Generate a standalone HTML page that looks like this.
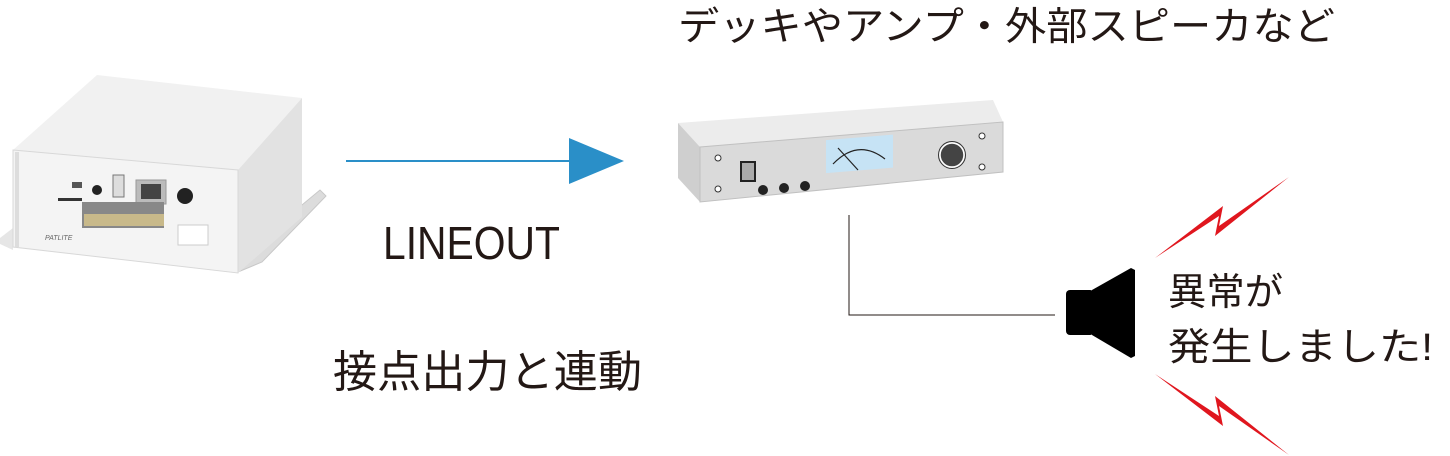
<!DOCTYPE html>
<html><head><meta charset="utf-8"><style>
html,body{margin:0;padding:0;background:#fff;}
svg{display:block;}
text{font-family:"Liberation Sans","Noto Sans CJK JP",sans-serif;fill:#231815;}
</style></head><body>
<svg width="1450" height="456" viewBox="0 0 1450 456" xmlns="http://www.w3.org/2000/svg">
<!-- Left device -->
<polygon points="0,238 13,228 13,250 0,244" fill="#e6e6e6"/>
<polygon points="238,258 320,190 326,196 262,262 238,272" fill="#dcdcdc" stroke="#c8c8c8"/>
<polygon points="13,150 97,75 302,98 238,170" fill="#f1f1f1"/>
<polygon points="238,170 302,98 302,217 238,273" fill="#e2e2e2"/>
<polygon points="13,150 238,170 238,273 13,247" fill="#f4f4f4" stroke="#d8d8d8"/>
<rect x="15" y="152" width="4" height="95" fill="#ddd"/>
<rect x="72" y="182" width="10" height="6" fill="#555"/>
<circle cx="97" cy="190" r="5" fill="#222"/>
<rect x="113" y="175" width="11" height="22" fill="#ddd" stroke="#777"/>
<rect x="136" y="180" width="30" height="24" fill="#bbb" stroke="#999"/>
<rect x="141" y="184" width="20" height="15" fill="#444"/>
<circle cx="185" cy="196" r="8" fill="#222"/>
<rect x="58" y="198" width="24" height="3" fill="#333"/>
<rect x="82" y="202" width="82" height="26" fill="#888"/>
<rect x="84" y="214" width="80" height="12" fill="#c8b98a"/>
<rect x="178" y="225" width="30" height="20" fill="#fff" stroke="#ccc"/>
<text x="45" y="240" font-size="7" font-style="italic" style="fill:#666">PATLITE</text>
<!-- Arrow -->
<line x1="346" y1="161" x2="572" y2="161" stroke="#2a8fc8" stroke-width="2"/>
<polygon points="569,138 624,161 569,184" fill="#2a8fc8"/>
<!-- Rack device -->
<polygon points="678,123 993,100 1003,122 700,147" fill="#ececec"/>
<polygon points="678,123 700,147 700,202 678,178" fill="#cfcfcf"/>
<polygon points="700,147 1003,122 1003,172 700,202" fill="#dadada" stroke="#c0c0c0"/>
<rect x="826" y="140" width="67" height="33" fill="#c6e3f5" transform="skewY(-4.7) translate(0,68)"/>
<path d="M833,164 Q858,138 885,159" fill="none" stroke="#222" stroke-width="1.2"/>
<line x1="838" y1="148" x2="858" y2="170" stroke="#222" stroke-width="1.2"/>
<rect x="741" y="162" width="14" height="19" fill="#aaa" stroke="#222" stroke-width="2"/>
<circle cx="718" cy="158" r="3" fill="#fff" stroke="#333"/>
<circle cx="718" cy="189" r="3" fill="#fff" stroke="#333"/>
<circle cx="982" cy="136" r="3" fill="#fff" stroke="#333"/>
<circle cx="982" cy="167" r="3" fill="#fff" stroke="#333"/>
<circle cx="952" cy="155" r="12" fill="#444" stroke="#fff" stroke-width="1.5"/>
<circle cx="952" cy="155" r="13.5" fill="none" stroke="#333"/>
<circle cx="763" cy="190" r="5" fill="#222"/>
<circle cx="784" cy="188" r="5" fill="#222"/>
<circle cx="805" cy="186" r="5" fill="#222"/>
<!-- connector -->
<polyline points="849,215 849,315 1055,315" fill="none" stroke="#231815" stroke-width="1"/>
<!-- speaker -->
<rect x="1066" y="290" width="28" height="45" rx="4" fill="#000"/>
<polygon points="1092,290 1131,268 1135,270 1135,356 1131,358 1092,335" fill="#000"/>
<!-- lightning -->
<polygon points="1155,258 1223,206 1219,226 1289,177 1215,236 1219,216" fill="#e0161e"/>
<polygon points="1155,374 1223,426 1219,406 1289,455 1215,396 1219,416" fill="#e0161e"/>
<!-- texts -->
<text x="678" y="40" font-size="39" textLength="657" lengthAdjust="spacingAndGlyphs">デッキやアンプ・外部スピーカなど</text>
<text x="383" y="259" font-size="46" textLength="177" lengthAdjust="spacingAndGlyphs">LINEOUT</text>
<text x="333" y="387" font-size="44" textLength="309" lengthAdjust="spacingAndGlyphs">接点出力と連動</text>
<text x="1168" y="305" font-size="38" textLength="115" lengthAdjust="spacingAndGlyphs">異常が</text>
<text x="1168" y="360" font-size="38" textLength="265" lengthAdjust="spacingAndGlyphs">発生しました!</text>
</svg>
</body></html>
